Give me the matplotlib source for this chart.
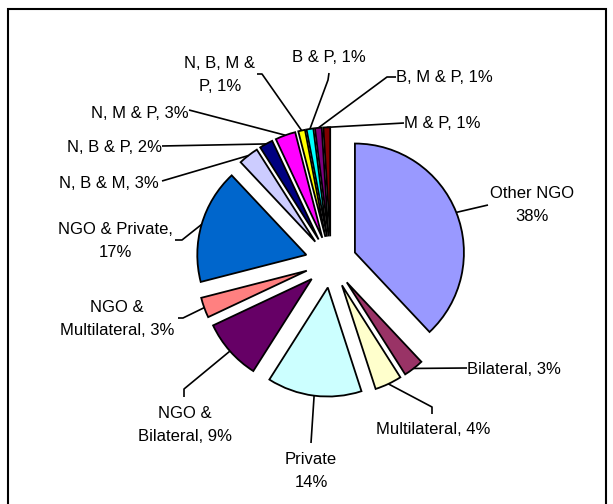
import numpy as np
import matplotlib
matplotlib.use("Agg")
import matplotlib.pyplot as plt
from matplotlib.patches import Rectangle

categories = ["Other NGO", "Bilateral", "Multilateral", "Private", "NGO & Bilateral",
              "NGO & Multilateral", "NGO & Private", "N, B & M", "N, B & P", "N, M & P",
              "N, B, M & P", "B & P", "B, M & P", "M & P"]
values = [38, 3, 4, 14, 9, 3, 17, 3, 2, 3, 1, 1, 1, 1]
label_texts = ["Other NGO\n38%", "Bilateral, 3%", "Multilateral, 4%", "Private\n14%",
               "NGO &\nBilateral, 9%", "NGO &\nMultilateral, 3%", "NGO & Private,\n17%",
               "N, B & M, 3%", "N, B & P, 2%", "N, M & P, 3%", "N, B, M &\nP, 1%",
               "B & P, 1%", "B, M & P, 1%", "M & P, 1%"]
colors = ["#9999FF", "#993366", "#FFFFCC", "#CCFFFF", "#660066", "#FF8080", "#0066CC",
          "#CCCCFF", "#000080", "#FF00FF", "#FFFF00", "#00FFFF", "#800080", "#800000"]

W, H = 613, 504
fig = plt.figure(figsize=(W / 100, H / 100), dpi=100)
ax = fig.add_axes([0, 0, 1, 1])
cx, cy, R = 331, 262, 109

expl = 0.236
wedges, _ = ax.pie(values, colors=colors, startangle=90, counterclock=False,
                   explode=[expl] * len(values), radius=1.0,
                   wedgeprops=dict(edgecolor="black", linewidth=1.3))
ax.set_xlim(-cx / R, (W - cx) / R)
ax.set_ylim((cy - H) / R, cy / R)
ax.set_aspect("auto")
ax.axis("off")


def P(x, y):
    return ((x - cx) / R, (cy - y) / R)


# label layout (pixel positions), ha
layout = [((532, 205), "center"), ((467, 369), "left"), ((433, 429), "center"),
          ((311, 471), "center"), ((185, 425), "center"), ((117, 319), "center"),
          ((115, 241), "center"), ((159, 183), "right"), ((162, 147), "right"),
          ((189, 113), "right"), ((220, 75), "center"), ((329, 57), "center"),
          ((396, 77), "left"), ((404, 123), "left")]
elbows = [[(488, 205)], [(467, 368)], [(432, 407), (432, 414)], [(311, 443)],
          [(184, 389), (184, 397)], [(183, 318), (178, 318)], [(182, 240), (175, 240)],
          [(162, 181)], [(162, 146)], [(189, 110)], [(262, 74), (257, 74)],
          [(328, 80), (329, 73)], [(387, 77), (396, 77)], [(404, 123)]]

for w, txt, (pos, ha), elb in zip(wedges, label_texts, layout, elbows):
    mid = np.deg2rad((w.theta1 + w.theta2) / 2)
    ax0 = (1 + expl) * np.cos(mid)
    ay0 = (1 + expl) * np.sin(mid)
    pts = [(ax0, ay0)] + [P(*p) for p in elb]
    xs, ys = zip(*pts)
    ax.plot(xs, ys, color="black", lw=1.2, solid_capstyle="butt")
    tx, ty = P(*pos)
    ax.text(tx, ty, txt, ha=ha, va="center", fontsize=12, family="Liberation Sans",
            linespacing=1.62, multialignment="center")

fig.patches.append(Rectangle((8 / W, -0.02), (606 - 8) / W, 1.02 - 9 / H,
                             transform=fig.transFigure, fill=False,
                             edgecolor="black", linewidth=1.5))
fig.savefig("out.png", dpi=100)
